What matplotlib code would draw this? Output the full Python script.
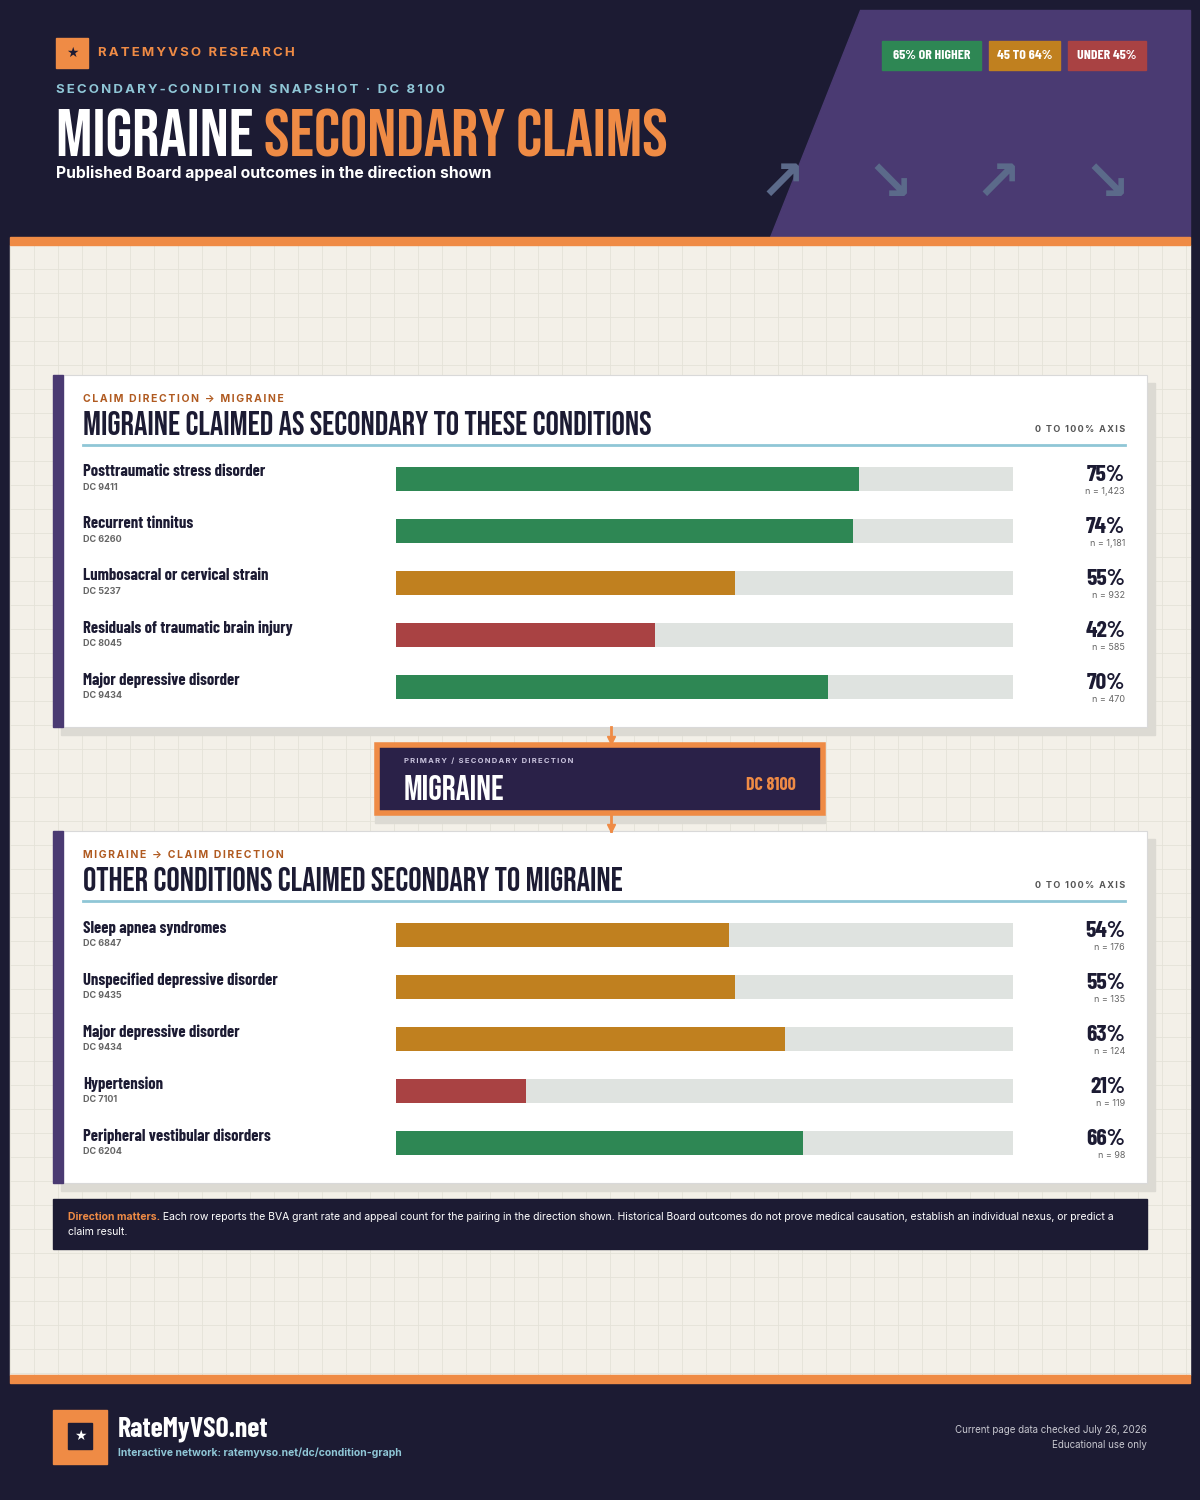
import matplotlib
matplotlib.use("Agg")
import matplotlib.pyplot as plt
from matplotlib.patches import Rectangle, Polygon
import numpy as np

up_labels = ["Posttraumatic stress disorder", "Recurrent tinnitus", "Lumbosacral or cervical strain",
             "Residuals of traumatic brain injury", "Major depressive disorder"]
up_codes = ["DC 9411", "DC 6260", "DC 5237", "DC 8045", "DC 9434"]
up_pct = [75, 74, 55, 42, 70]
up_n = ["1,423", "1,181", "932", "585", "470"]

dn_labels = ["Sleep apnea syndromes", "Unspecified depressive disorder", "Major depressive disorder",
             "Hypertension", "Peripheral vestibular disorders"]
dn_codes = ["DC 6847", "DC 9435", "DC 9434", "DC 7101", "DC 6204"]
dn_pct = [54, 55, 63, 21, 66]
dn_n = ["176", "135", "124", "119", "98"]

DARK = "#1c1b33"; ORANGE = "#ef8b45"; PURPLE = "#4a3a72"; CREAM = "#f3f0e8"
GREEN = "#2e8754"; AMBER = "#c0801f"; RED = "#a94243"; TRACK = "#dfe3e0"; NAVY = "#1c1b33"
BEBAS = ["Bebas Neue", "DejaVu Sans"]
BARLOW = ["Barlow Condensed", "DejaVu Sans"]
INTER = ["Inter", "DejaVu Sans"]
plt.rcParams["font.family"] = INTER

def col(p):
    return GREEN if p >= 65 else (AMBER if p >= 45 else RED)

def spaced(s):
    return "\u2009".join(s)

W, H = 1200, 1500
fig = plt.figure(figsize=(12, 15), dpi=100)
fig.patch.set_facecolor(DARK)
ax = fig.add_axes([0, 0, 1, 1])
ax.set_xlim(0, W); ax.set_ylim(H, 0); ax.axis("off")

# header
ax.add_patch(Polygon([[860, 10], [1190, 10], [1190, 237], [770, 237]], color=PURPLE, zorder=1))
ax.add_patch(Rectangle((10, 237), 1180, 8, color=ORANGE, zorder=2))
ax.add_patch(Rectangle((10, 245), 1180, 1130, color=CREAM, zorder=1))
for gx in np.arange(10, 1190, 24):
    ax.plot([gx, gx], [245, 1375], color="#e4e2d8", lw=0.6, zorder=1.1)
for gy in np.arange(245, 1375, 24):
    ax.plot([10, 1190], [gy, gy], color="#e4e2d8", lw=0.6, zorder=1.1)
ax.add_patch(Rectangle((10, 1375), 1180, 8, color=ORANGE, zorder=2))

ax.add_patch(Rectangle((56, 38), 32, 30, color=ORANGE, zorder=3))
ax.text(72, 53, "★", color=DARK, fontsize=10, ha="center", va="center", zorder=4, family="DejaVu Sans")
ax.text(98, 53, spaced("RATEMYVSO RESEARCH"), color=ORANGE, fontsize=9.5, fontweight="bold", va="center")
ax.text(56, 90, spaced("SECONDARY-CONDITION SNAPSHOT · DC 8100"), color="#8fc6d6", fontsize=9.5, fontweight="bold", va="center")
t = ax.text(56, 133, "MIGRAINE ", color="white", fontsize=49, va="center", family=BEBAS, fontweight="bold")
ax.annotate("SECONDARY CLAIMS", xycoords=t, xy=(1, 0.5), va="center", color=ORANGE, fontsize=49, family=BEBAS, fontweight="bold")
ax.text(56, 173, "Published Board appeal outcomes in the direction shown", color="white", fontsize=11.3, fontweight="bold", va="center")

for x0, w, lab, c in [(882, 99, "65% OR HIGHER", GREEN), (989, 71, "45 TO 64%", AMBER), (1068, 78, "UNDER 45%", RED)]:
    ax.add_patch(Rectangle((x0, 41), w, 29, color=c, zorder=3))
    ax.text(x0 + w / 2, 55.5, lab, color="white", fontsize=10, ha="center", va="center", zorder=4, family=BARLOW, fontweight="bold")
for xc, s in [(782, "↗"), (890, "↘"), (998, "↗"), (1107, "↘")]:
    ax.text(xc, 185, s, color="#5b6a8a", fontsize=40, ha="center", va="center", fontweight="bold", family="DejaVu Sans")

def panel(y0, kicker, title, labels, codes, pct, ns):
    ax.add_patch(Rectangle((61, y0 + 8), 1094, 352, color="#dcdad3", zorder=2))
    ax.add_patch(Rectangle((53, y0), 1094, 352, facecolor="white", edgecolor="#d9d9d9", lw=0.8, zorder=3))
    ax.add_patch(Rectangle((53, y0), 10, 352, color=PURPLE, zorder=4))
    ax.text(83, y0 + 24, spaced(kicker), color="#b05a20", fontsize=7.5, fontweight="bold", va="center", zorder=5)
    ax.text(83, y0 + 48, title, color=NAVY, fontsize=24, va="center", family=BEBAS, fontweight="bold", zorder=5)
    ax.text(1125, y0 + 55, spaced("0 TO 100% AXIS"), color="#555", fontsize=6.5, fontweight="bold", ha="right", va="center", zorder=5)
    ax.plot([83, 1125], [y0 + 70, y0 + 70], color="#8fc6d6", lw=2, zorder=5)
    for i in range(len(labels)):
        yy = y0 + 97 + 52 * i
        ax.text(83, yy, labels[i], color=NAVY, fontsize=12, fontweight="bold", va="center", family=BARLOW, zorder=5)
        ax.text(83, yy + 16, codes[i], color="#666", fontsize=6.5, fontweight="bold", va="center", zorder=5)
        ax.text(1125, yy + 3, f"{pct[i]}%", color=NAVY, fontsize=17, fontweight="bold", ha="right", va="center", family=BARLOW, zorder=5)
        ax.text(1125, yy + 20, f"n = {ns[i]}", color="#666", fontsize=6.5, ha="right", va="center", zorder=5)
    top = y0 + 78
    bax = fig.add_axes([396 / W, 1 - (top + 260) / H, 617 / W, 260 / H])
    bax.set_xlim(0, 100); bax.set_ylim(4.5, -0.5); bax.axis("off"); bax.patch.set_alpha(0)
    yi = np.arange(len(pct))
    bax.barh(yi, [100] * len(pct), height=0.48, color=TRACK)
    bax.barh(yi, pct, height=0.48, color=[col(p) for p in pct])

panel(375, "CLAIM DIRECTION → MIGRAINE", "MIGRAINE CLAIMED AS SECONDARY TO THESE CONDITIONS", up_labels, up_codes, up_pct, up_n)
panel(831, "MIGRAINE → CLAIM DIRECTION", "OTHER CONDITIONS CLAIMED SECONDARY TO MIGRAINE", dn_labels, dn_codes, dn_pct, dn_n)

# central node
ax.plot([611, 611], [727, 743], color=ORANGE, lw=2, zorder=3)
ax.plot([611, 611], [815, 831], color=ORANGE, lw=2, zorder=3)
ax.plot([611], [740], marker="v", color=ORANGE, ms=6, zorder=3)
ax.plot([611], [828], marker="v", color=ORANGE, ms=6, zorder=6)
ax.add_patch(Rectangle((375, 815), 450, 8, color="#dcdad3", zorder=2))
ax.add_patch(Rectangle((377, 745), 446, 68, facecolor="#2a2148", edgecolor=ORANGE, lw=4, zorder=3))
ax.text(404, 761, spaced("PRIMARY / SECONDARY DIRECTION"), color="#c9c3dd", fontsize=5.5, fontweight="bold", va="center", zorder=4)
ax.text(404, 787, "MIGRAINE", color="white", fontsize=25, va="center", family=BEBAS, fontweight="bold", zorder=4)
ax.text(796, 786, "DC 8100", color=ORANGE, fontsize=13, fontweight="bold", ha="right", va="center", family=BARLOW, zorder=4)

# note
ax.add_patch(Rectangle((53, 1199), 1094, 50, color=DARK, zorder=3))
t = ax.text(68, 1217, "Direction matters.", color=ORANGE, fontsize=7.5, fontweight="bold", va="center", zorder=4)
ax.annotate(" Each row reports the BVA grant rate and appeal count for the pairing in the direction shown. Historical Board outcomes do not prove medical causation, establish an individual nexus, or predict a",
            xycoords=t, xy=(1, 0.5), va="center", color="white", fontsize=7.5, zorder=4)
ax.text(68, 1232, "claim result.", color="white", fontsize=7.5, va="center", zorder=4)

# footer
ax.add_patch(Rectangle((53, 1410), 54, 54, color=ORANGE, zorder=3))
ax.add_patch(Rectangle((68, 1423), 24, 26, color=DARK, zorder=4))
ax.text(80, 1436, "★", color="white", fontsize=10, ha="center", va="center", zorder=5, family="DejaVu Sans")
ax.text(118, 1429, "RateMyVSO.net", color="white", fontsize=20, fontweight="bold", va="center", family=BARLOW)
ax.text(118, 1453, "Interactive network: ratemyvso.net/dc/condition-graph", color="#8fc6d6", fontsize=7.5, fontweight="bold", va="center")
ax.text(1147, 1430, "Current page data checked July 26, 2026", color="#c8c8d0", fontsize=7, ha="right", va="center")
ax.text(1147, 1445, "Educational use only", color="#c8c8d0", fontsize=7, ha="right", va="center")

fig.savefig("out.png", dpi=100, facecolor=DARK)
